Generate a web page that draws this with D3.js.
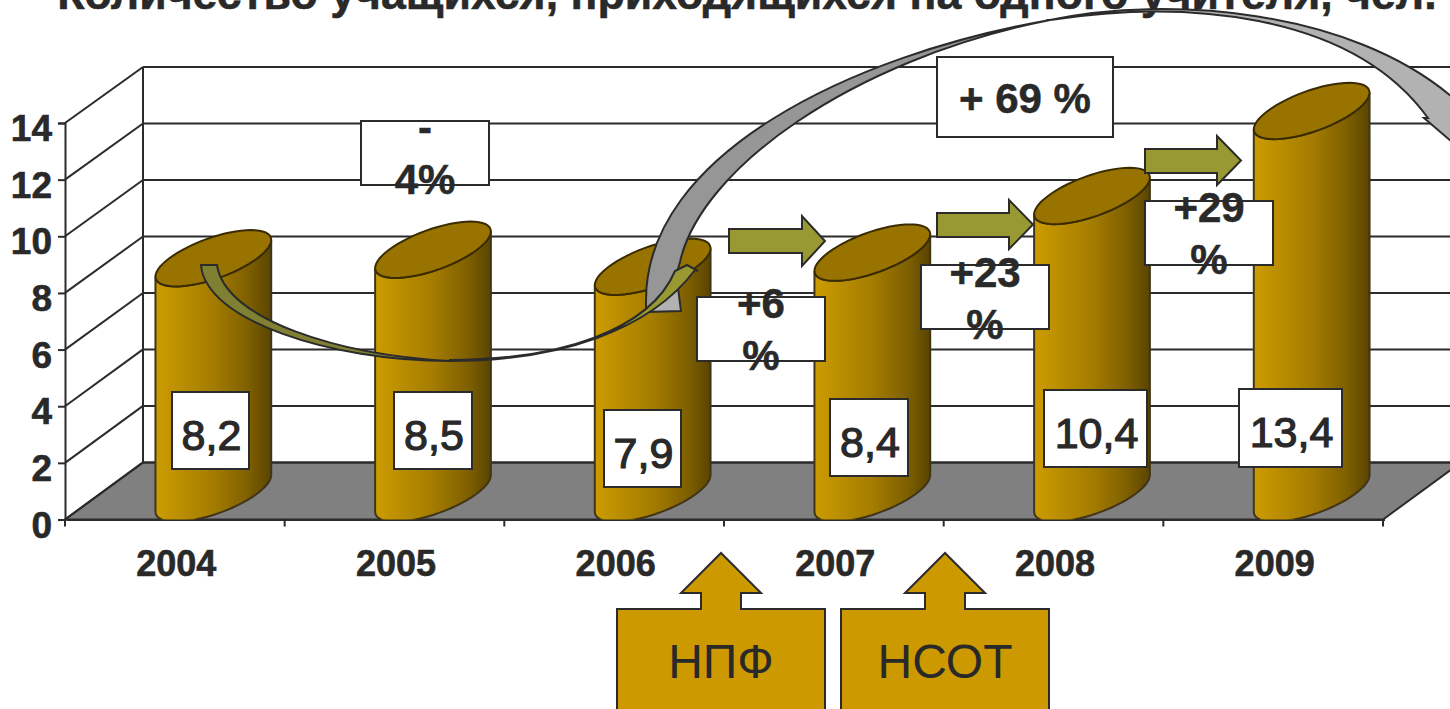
<!DOCTYPE html>
<html lang="ru">
<head>
<meta charset="utf-8">
<title>Количество учащихся</title>
<script src="https://cdnjs.cloudflare.com/ajax/libs/d3/7.8.5/d3.min.js"></script>
<style>
html,body{margin:0;padding:0;background:#fff;overflow:hidden}
svg{display:block}
text{font-family:"Liberation Sans",Arial,sans-serif;fill:#292929}
</style>
</head>
<body>
<svg id="chart" width="1450" height="709" viewBox="0 0 1450 709"></svg>
<script>
// ---- data
const titleText = "Количество учащихся, приходящихся на одного учителя, чел.";
const years = ["2004", "2005", "2006", "2007", "2008", "2009"];
const values = [8.2, 8.5, 7.9, 8.4, 10.4, 13.4];
const valueLabels = ["8,2", "8,5", "7,9", "8,4", "10,4", "13,4"];
const yTicks = [0, 2, 4, 6, 8, 10, 12, 14];
const changeLabels = [["-", "4%"], ["+6", "%"], ["+23", "%"], ["+29", "%"], ["+ 69 %"]];
const policyLabels = ["НПФ", "НСОТ"];

// ---- layout
const ink = "#2b2b2b";
const plot = {left: 65, right: 1383, floorY: 519.5, topY: 123, backFloorY: 462.4, backTopY: 67, dx: 78};
const svg = d3.select("#chart");
const defs = svg.append("defs");

const x = d3.scaleBand().domain(years).range([plot.left, plot.right]);
const yFront = d3.scaleLinear().domain([0, 14]).range([plot.floorY, plot.topY]);
const yBack = d3.scaleLinear().domain([0, 14]).range([plot.backFloorY, plot.backTopY]);

const grad = defs.append("linearGradient").attr("id", "cyl");
[[0, "#cc9c00"], [0.5, "#a47c00"], [0.8, "#7f6000"], [1, "#5a4500"]].forEach(([o, c]) =>
  grad.append("stop").attr("offset", o).attr("stop-color", c));
defs.append("clipPath").attr("id", "floorClip").append("rect")
  .attr("x", 0).attr("y", 0).attr("width", 1450).attr("height", plot.floorY);

// floor
svg.append("path")
  .attr("d", d3.line()([[plot.left, plot.floorY], [plot.left + plot.dx, plot.backFloorY],
    [plot.right + plot.dx, plot.backFloorY], [plot.right, plot.floorY]]) + "Z")
  .attr("fill", "#808080").attr("stroke", ink).attr("stroke-width", 2);

// grid: back wall lines and side wall lines
const grid = svg.append("g").attr("stroke", ink).attr("stroke-width", 2).attr("fill", "none");
grid.selectAll(".back").data(yTicks.concat()).join("line")
  .attr("x1", plot.left + plot.dx).attr("x2", 1450)
  .attr("y1", d => yBack(d)).attr("y2", d => yBack(d));
grid.selectAll(".side").data(yTicks).join("line")
  .attr("x1", plot.left).attr("x2", plot.left + plot.dx)
  .attr("y1", d => yFront(d)).attr("y2", d => yBack(d));
grid.append("line").attr("x1", plot.left + plot.dx).attr("x2", plot.left + plot.dx)
  .attr("y1", yBack(0)).attr("y2", yBack(14));

// axes
const yAxis = svg.append("g").attr("transform", `translate(${plot.left},0)`)
  .call(d3.axisLeft(yFront).tickValues(yTicks).tickSize(7).tickPadding(6));
yAxis.select(".domain").attr("stroke", ink).attr("stroke-width", 2);
yAxis.selectAll(".tick line").attr("stroke", ink).attr("stroke-width", 2);
yAxis.selectAll("text").attr("font-size", 37).attr("font-weight", "bold")
  .attr("fill", "#292929").attr("stroke", "#292929").attr("stroke-width", 0.6)
  .attr("dy", 17.5).attr("y", 0);

const xAxis = svg.append("g").attr("transform", `translate(1.5,${plot.floorY})`)
  .call(d3.axisBottom(x).tickSize(0).tickPadding(0));
xAxis.select(".domain").attr("stroke", ink).attr("stroke-width", 2);
xAxis.selectAll("text").attr("font-size", 36).attr("font-weight", "bold")
  .attr("fill", "#292929").attr("stroke", "#292929").attr("stroke-width", 0.6)
  .attr("y", 56.5).attr("dy", 0);
// separators between categories
svg.append("g").selectAll("line").data(years.map(d => x(d)).concat(plot.right)).join("line")
  .attr("x1", d => d).attr("x2", d => d)
  .attr("y1", plot.floorY).attr("y2", plot.floorY + 7)
  .attr("stroke", ink).attr("stroke-width", 2);

// cylinders
const cyl = {A: 44, B: 37.6, C: 28.2, depthX: 38.5, depthY: 29, baseDrop: 3};
const angle = d3.range(0, 361, 6).map(d => d * Math.PI / 180);
const ell = (cx, cy, t) => [cx + cyl.A * Math.cos(t) + cyl.B * Math.sin(t), cy - cyl.C * Math.sin(t)];
const tRight = Math.atan2(cyl.B, cyl.A), tLeft = tRight + Math.PI;
const lineGen = d3.line();
const bars = svg.append("g").selectAll("g").data(years).join("g");
bars.each(function (year, i) {
  const cx = x(year) + x.bandwidth() / 2 + cyl.depthX;
  const baseY = plot.floorY - cyl.depthY;
  const topY = baseY - (yFront(0) - yFront(values[i]));
  const g = d3.select(this);
  const lowerBase = d3.range(0, 31).map(k => ell(cx, baseY + cyl.baseDrop, tLeft + (k / 30) * Math.PI));
  const lowerTop = d3.range(0, 31).map(k => ell(cx, topY, tLeft + (k / 30) * Math.PI));
  g.append("path").attr("clip-path", "url(#floorClip)")
    .attr("d", lineGen(lowerBase.concat(lowerTop.slice().reverse())) + "Z")
    .attr("fill", "url(#cyl)").attr("stroke", "#40341a").attr("stroke-width", 2);
  g.append("path")
    .attr("d", lineGen(angle.map(t => ell(cx, topY, t))) + "Z")
    .attr("fill", "#997300").attr("stroke", "#3a2c00").attr("stroke-width", 2);
});

// gray curved arrow (decorative annotation outlines)
const grayBackPath = "M646,312L646,300C646,155 850,55 1050,20C850,60 700,170 680,262Q672,295 646,312Z";
const grayFrontPath = "M1050,20C1170,-5 1350,10 1452,97L1452,142L1424,118L1428,118C1350,10 1180,0 1050,20Z";
const grayFootPath = "M646,312L681,311L676,272Z";
const grayLayer = svg.append("g").attr("stroke", ink).attr("stroke-width", 2);
grayLayer.append("path").attr("d", grayFootPath).attr("fill", "#b2b2b2");
grayLayer.append("path").attr("d", grayBackPath).attr("fill", "#969696");
grayLayer.append("path").attr("d", grayFrontPath).attr("fill", "#b2b2b2");

// olive curved arrow
const oliveTailPath = "M201,265C205,320 330,361 450,361C340,355 225,320 217,265Z";
const oliveHeadPath = "M450,361C560,361 650,330 695,270L698,271L687,265L675,271C650,330 560,360 450,360Z";
const oliveLayer = svg.append("g").attr("stroke", ink).attr("stroke-width", 2);
oliveLayer.append("path").attr("d", oliveTailPath).attr("fill", "#808033");
oliveLayer.append("path").attr("d", oliveHeadPath).attr("fill", "#999933");

// straight block arrows
const rightArrows = [[729, 229, 253, 802, 216, 266, 825], [937, 213, 237, 1009, 200, 249, 1033], [1145, 149, 173, 1217, 136, 185, 1241]];
svg.append("g").selectAll("path").data(rightArrows).join("path")
  .attr("d", ([x0, s0, s1, hx, h0, h1, tip]) => d3.line()([[x0, s0], [hx, s0], [hx, h0], [tip, (h0 + h1) / 2], [hx, h1], [hx, s1], [x0, s1]]) + "Z")
  .attr("fill", "#999933").attr("stroke", ink).attr("stroke-width", 2);

// value boxes
const valueBoxes = [[172, 392, 77, 77], [394, 392, 78, 77], [604, 410, 77, 77], [830, 399, 78, 77], [1044, 390, 103, 77], [1239, 389, 103, 78]];
const vb = svg.append("g").selectAll("g").data(valueLabels).join("g");
vb.append("rect")
  .attr("x", (d, i) => valueBoxes[i][0]).attr("y", (d, i) => valueBoxes[i][1])
  .attr("width", (d, i) => valueBoxes[i][2]).attr("height", (d, i) => valueBoxes[i][3])
  .attr("fill", "#fff").attr("stroke", ink).attr("stroke-width", 2);
vb.append("text").text(d => d)
  .attr("x", (d, i) => valueBoxes[i][0] + valueBoxes[i][2] / 2 + 1)
  .attr("y", (d, i) => valueBoxes[i][1] + 58)
  .attr("text-anchor", "middle").attr("font-size", 43)
  .attr("stroke", "#292929").attr("stroke-width", 1.2);

// change boxes: [x, y, w, h, baseline of first line]
const changeBoxes = [[361, 121, 128, 64, 142], [697, 297, 128, 64, 318], [921, 265, 128, 64, 287], [1145, 201, 128, 64, 222], [937, 57, 176, 80, 113]];
const cb = svg.append("g").selectAll("g").data(changeLabels).join("g");
cb.append("rect")
  .attr("x", (d, i) => changeBoxes[i][0]).attr("y", (d, i) => changeBoxes[i][1])
  .attr("width", (d, i) => changeBoxes[i][2]).attr("height", (d, i) => changeBoxes[i][3])
  .attr("fill", "#fff").attr("stroke", ink).attr("stroke-width", 2);
cb.each(function (lines, i) {
  d3.select(this).selectAll("text").data(lines).join("text").text(d => d)
    .attr("x", changeBoxes[i][0] + changeBoxes[i][2] / 2)
    .attr("y", (d, k) => changeBoxes[i][4] + k * 52)
    .attr("text-anchor", "middle").attr("font-size", 42).attr("font-weight", "bold")
    .attr("stroke", "#292929").attr("stroke-width", 0.5);
});

// policy callouts: [left, right, shaft left, shaft right, head left, head right, tip x]
const callouts = [[617, 825, 701, 741, 681, 761, 721], [841, 1049, 925, 965, 905, 985, 945]];
const co = svg.append("g").selectAll("g").data(policyLabels).join("g");
co.append("path").attr("d", (d, i) => {
  const [l, r, s0, s1, h0, h1, t] = callouts[i];
  return d3.line()([[l, 720], [l, 609], [s0, 609], [s0, 593], [h0, 593], [t, 553], [h1, 593], [s1, 593], [s1, 609], [r, 609], [r, 720]]) + "Z";
}).attr("fill", "#cc9900").attr("stroke", ink).attr("stroke-width", 2);
co.append("text").text(d => d)
  .attr("x", (d, i) => (callouts[i][0] + callouts[i][1]) / 2).attr("y", 678)
  .attr("text-anchor", "middle").attr("font-size", 48);

// title: cut by the top edge in the source, kept at the same place
svg.insert("text", ":first-child").text(titleText)
  .attr("x", 747).attr("y", 9).attr("text-anchor", "middle")
  .attr("font-size", 44.7).attr("font-weight", "bold")
  .attr("stroke", "#292929").attr("stroke-width", 0.5);
</script>
</body>
</html>
